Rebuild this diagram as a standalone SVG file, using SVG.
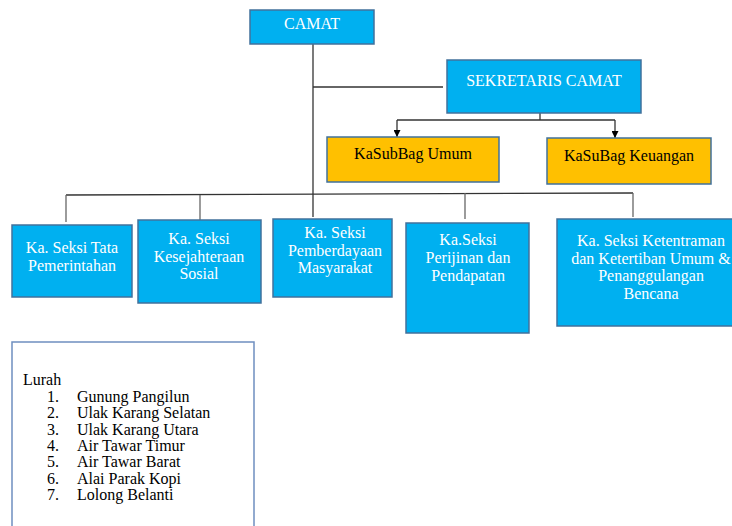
<svg xmlns="http://www.w3.org/2000/svg" width="732" height="526" viewBox="0 0 732 526">
<style>
.b{fill:#00B0F0;stroke:#41719C;stroke-width:1.5}
.o{fill:#FFC000;stroke:#41719C;stroke-width:1.5}
.t{font-family:"Liberation Serif","Times New Roman",serif;font-size:16px;text-anchor:middle}
.w{fill:#FFFFFF}
.k{fill:#000000}
.c{fill:none;stroke:#333333;stroke-width:1.3}
.g{fill:none;stroke:#666666;stroke-width:1.3}
.l{font-family:"Liberation Serif","Times New Roman",serif;font-size:16px;fill:#000000}
</style>
<defs>
<marker id="ah" viewBox="0 0 10 10" refX="10" refY="5" markerWidth="7" markerHeight="7" markerUnits="userSpaceOnUse" orient="auto">
<path d="M0,0 L10,5 L0,10 z" fill="#000000"/>
</marker>
</defs>
<g id="connectors">
<line class="c" x1="313" y1="44" x2="313" y2="217"/>
<line class="c" x1="313" y1="87" x2="443" y2="87"/>
<polyline class="c" points="66,195 633,193"/>
<line class="g" x1="66" y1="195" x2="66" y2="222"/>
<line class="g" x1="200" y1="195" x2="200" y2="220"/>
<line class="g" x1="465" y1="193" x2="465" y2="219"/>
<line class="g" x1="633" y1="193" x2="633" y2="217"/>
<line class="c" x1="540" y1="113" x2="540" y2="120"/>
<line class="c" x1="397" y1="120" x2="615" y2="120"/>
<line class="c" x1="397" y1="120" x2="397" y2="137" marker-end="url(#ah)"/>
<line class="c" x1="615" y1="120" x2="615" y2="138" marker-end="url(#ah)"/>
</g>
<g id="camat">
<rect class="b" x="250" y="10" width="124" height="34"/>
<text class="t w" x="312" y="29">CAMAT</text>
</g>
<g id="sekretaris">
<rect class="b" x="447" y="60" width="194" height="53"/>
<text class="t w" x="544" y="86">SEKRETARIS CAMAT</text>
</g>
<g id="kasubag-umum">
<rect class="o" x="327" y="137" width="172" height="45"/>
<text class="t k" x="413" y="159">KaSubBag Umum</text>
</g>
<g id="kasubag-keuangan">
<rect class="o" x="547" y="138" width="164" height="46"/>
<text class="t k" x="629" y="161">KaSuBag Keuangan</text>
</g>
<g id="seksi-tata">
<rect class="b" x="12" y="225" width="120" height="72"/>
<text class="t w" x="72" y="253">Ka. Seksi Tata</text>
<text class="t w" x="72" y="270.5">Pemerintahan</text>
</g>
<g id="seksi-kesejahteraan">
<rect class="b" x="138" y="220" width="123" height="83"/>
<text class="t w" x="199" y="244">Ka. Seksi</text>
<text class="t w" x="199" y="261.7">Kesejahteraan</text>
<text class="t w" x="199" y="279">Sosial</text>
</g>
<g id="seksi-pemberdayaan">
<rect class="b" x="273" y="219" width="119" height="78"/>
<text class="t w" x="335" y="238">Ka. Seksi</text>
<text class="t w" x="335" y="255.7">Pemberdayaan</text>
<text class="t w" x="335" y="273">Masyarakat</text>
</g>
<g id="seksi-perijinan">
<rect class="b" x="406" y="223" width="123" height="110"/>
<text class="t w" x="468" y="245">Ka.Seksi</text>
<text class="t w" x="468" y="263">Perijinan dan</text>
<text class="t w" x="468" y="280.7">Pendapatan</text>
</g>
<g id="seksi-ketentraman">
<rect class="b" x="557" y="219" width="190" height="107"/>
<text class="t w" x="651" y="246">Ka. Seksi Ketentraman</text>
<text class="t w" x="651" y="263.5">dan Ketertiban Umum &amp;</text>
<text class="t w" x="651" y="281">Penanggulangan</text>
<text class="t w" x="651" y="298.7">Bencana</text>
</g>
<g id="lurah">
<path d="M12,530 L12,342 L254,342 L254,530" fill="#FFFFFF" stroke="#6F8FC0" stroke-width="1.5"/>
<text class="l" x="23" y="385">Lurah</text>
<g class="l" text-anchor="end">
<text x="59" y="402">1.</text>
<text x="59" y="418.3">2.</text>
<text x="59" y="434.6">3.</text>
<text x="59" y="450.9">4.</text>
<text x="59" y="467.2">5.</text>
<text x="59" y="483.5">6.</text>
<text x="59" y="499.8">7.</text>
</g>
<text class="l" x="77" y="402">Gunung Pangilun</text>
<text class="l" x="77" y="418.3">Ulak Karang Selatan</text>
<text class="l" x="77" y="434.6">Ulak Karang Utara</text>
<text class="l" x="77" y="450.9">Air Tawar Timur</text>
<text class="l" x="77" y="467.2">Air Tawar Barat</text>
<text class="l" x="77" y="483.5">Alai Parak Kopi</text>
<text class="l" x="77" y="499.8">Lolong Belanti</text>
</g>
</svg>
